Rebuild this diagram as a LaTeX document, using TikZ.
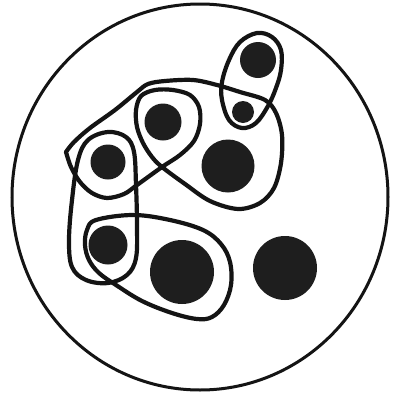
\documentclass[tikz,border=0pt]{standalone}
\begin{document}
\definecolor{ink}{HTML}{141414}
\definecolor{dotc}{HTML}{1E1E1E}
\begin{tikzpicture}[x=1pt,y=-1pt,
  loopline/.style={draw=ink, line width=4.2pt, line join=round, line cap=round},
  dot/.style={circle, fill=dotc, inner sep=0pt}]
\useasboundingbox (0,0) rectangle (393,394);
\fill[white] (0,0) rectangle (393,394);
% outer circle
\draw[draw=ink, line width=3pt] (200,197) ellipse [x radius=188pt, y radius=193pt];
% dots
\node[dot, minimum size=36pt] (d1) at (258,60) {};
\node[dot, minimum size=22pt] (d2) at (243,112) {};
\node[dot, minimum size=37pt] (d3) at (163,122) {};
\node[dot, minimum size=53pt] (d4) at (228,166) {};
\node[dot, minimum size=35pt] (d5) at (108,162) {};
\node[dot, minimum size=39pt] (d6) at (108,245) {};
\node[dot, minimum size=64pt] (d7) at (182,272) {};
\node[dot, minimum size=64pt] (d8) at (285,268) {};
% capsule around d1,d2
\draw[loopline] plot[smooth cycle, tension=0.6] coordinates {(257,33) (272,37) (281,50) (281,70) (276,88) (268,106) (256,123) (242,128) (229,120) (222,100) (222,82) (229,60) (240,42)};
% tall capsule around d5,d6
\draw[loopline] plot[smooth cycle, tension=0.6] coordinates {(108,132) (126,137) (134,152) (136,185) (137,225) (136,258) (127,275) (108,283) (86,280) (72,267) (69,240) (72,200) (78,160) (88,140)};
% blob around d6,d7
\draw[loopline] plot[smooth cycle, tension=0.6] coordinates {(96,220) (133,215) (170,220) (203,230) (221,244) (230,262) (231,285) (224,305) (212,317) (197,319) (172,313) (142,301) (116,285) (99,273) (89,260) (85,245) (87,230)};
% big self-crossing curve
\draw[loopline] plot[smooth, tension=0.55] coordinates {(66,152) (71,167) (80,182) (92,193) (107,198) (124,194) (137,185) (162,167) (180,155) (194,141) (200,124) (199,107) (190,95) (173,90) (155,90) (141,96) (136,110) (137,127) (143,143) (152,157) (162,167) (185,184) (210,201) (238,209) (260,203) (274,188) (281,163) (282,135) (276,113) (265,100) (240,92) (217,85) (193,80) (165,81) (148,84) (137,92) (115,110) (90,128) (74,142) (66,152)};
\end{tikzpicture}
\end{document}
